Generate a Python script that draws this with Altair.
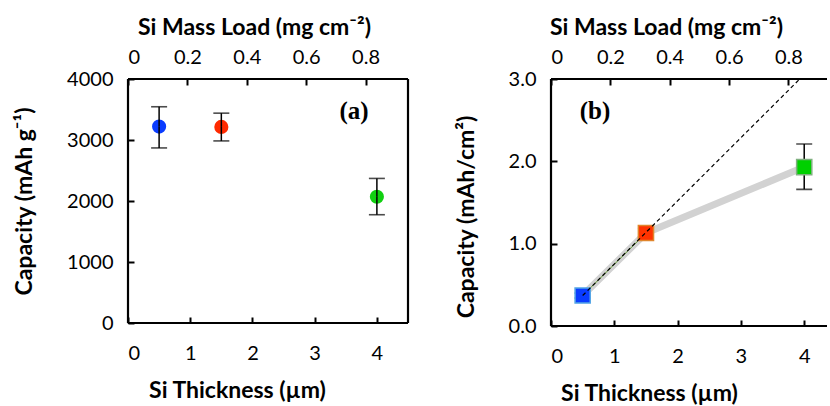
import altair as alt
import pandas as pd

# ---- data ----
thickness = [0.5, 1.5, 4.0]            # Si thickness (µm)
mass_load = [0.105, 0.315, 0.84]       # Si mass load (mg cm-2)
colors_a = ["#0a3cff", "#ff2a00", "#11d011"]
cap_a = [3220, 3215, 2070]             # mAh g-1
cap_a_lo = [2870, 2985, 1775]
cap_a_hi = [3545, 3440, 2370]

colors_b = ["#0a3cff", "#ff3300", "#00d000"]
strokes_b = ["#56a6e6", "#e0852c", "#7fb07f"]
cap_b = [0.37, 1.13, 1.93]             # mAh/cm2
cap_b_lo = [0.34, 1.08, 1.66]
cap_b_hi = [0.40, 1.18, 2.21]

dash_x = [0.5, 3.93]                   # ideal linear scaling line
dash_y = [0.37, 3.0]

x_ticks = [0, 1, 2, 3, 4]
top_ticks = [0, 0.2, 0.4, 0.6, 0.8]
ya_ticks = [0, 1000, 2000, 3000, 4000]
yb_ticks = [0.0, 1.0, 2.0, 3.0]

dfa = pd.DataFrame({"t": thickness, "m": mass_load, "c": cap_a,
                    "lo": cap_a_lo, "hi": cap_a_hi, "col": colors_a})
dfb = pd.DataFrame({"t": thickness, "m": mass_load, "c": cap_b,
                    "lo": cap_b_lo, "hi": cap_b_hi, "col": colors_b,
                    "sc": strokes_b})
dfd = pd.DataFrame({"t": dash_x, "c": dash_y})
one = pd.DataFrame({"k": [0]})

FONT = "Lato"
TITLE_SIZE = 23
LABEL_SIZE = 20
TK = 6
BW = 2.2

WA, HA = 280, 244
WB, HB = 276, 247


def bottom_axis(title_x):
    return alt.Axis(values=x_ticks, format="d", orient="bottom", domain=False,
                    offset=-TK, tickSize=TK, tickWidth=2, tickColor="black",
                    labelPadding=20, labelFontSize=LABEL_SIZE, labelFont=FONT,
                    labelColor="black", grid=False,
                    title="Si Thickness (µm)", titleFont=FONT,
                    titleFontSize=TITLE_SIZE, titleFontWeight="bold",
                    titleColor="black", titlePadding=16,
                    titleX=title_x, titleAnchor="start", titleAlign="center")


def top_axis(title_x):
    return alt.Axis(values=top_ticks, orient="top", domain=False,
                    labelExpr="datum.value == 0 ? '0' : format(datum.value, '.1f')",
                    offset=-TK, tickSize=TK, tickWidth=2, tickColor="black",
                    labelPadding=12, labelFontSize=LABEL_SIZE, labelFont=FONT,
                    labelColor="black", grid=False,
                    title="Si Mass Load (mg cm⁻²)", titleFont=FONT,
                    titleFontSize=TITLE_SIZE, titleFontWeight="bold",
                    titleColor="black", titlePadding=8,
                    titleX=title_x, titleAnchor="start", titleAlign="center")


def left_axis(values, fmt, title, title_y=None):
    kw = dict(values=values, format=fmt, orient="left", domain=False,
              offset=-TK, tickSize=TK, tickWidth=2, tickColor="black",
              labelPadding=15, labelFontSize=LABEL_SIZE, labelFont=FONT,
              labelColor="black", grid=False,
              title=title, titleFont=FONT, titleFontSize=TITLE_SIZE,
              titleFontWeight="bold", titleColor="black", titlePadding=30)
    if title_y is not None:
        kw.update(titleY=title_y, titleAnchor="start", titleAlign="center")
    return alt.Axis(**kw)


def border(w, h, right=True):
    parts = [
        alt.Chart(one).mark_rule(color="black", strokeWidth=BW).encode(
            x=alt.value(0), x2=alt.value(w), y=alt.value(0)),
        alt.Chart(one).mark_rule(color="black", strokeWidth=BW).encode(
            x=alt.value(0), x2=alt.value(w), y=alt.value(h)),
        alt.Chart(one).mark_rule(color="black", strokeWidth=BW).encode(
            x=alt.value(0), y=alt.value(0), y2=alt.value(h)),
    ]
    if right:
        parts.append(alt.Chart(one).mark_rule(color="black", strokeWidth=BW).encode(
            x=alt.value(w), y=alt.value(0), y2=alt.value(h)))
    return parts


# ---- panel (a) ----
ya_scale = alt.Scale(domain=[0, 4000], nice=False)
xa = alt.X("t:Q", scale=alt.Scale(domain=[0, 4.5], nice=False), axis=bottom_axis(109))
ya = alt.Y("c:Q", scale=ya_scale, axis=left_axis(ya_ticks, "d", "Capacity (mAh g⁻¹)"))

base_a = alt.Chart(dfa)
err_a = base_a.mark_rule(color="black", strokeWidth=1.5).encode(x=xa, y=ya, y2="hi:Q")
err_a2 = base_a.mark_rule(color="black", strokeWidth=1.5).encode(x=xa, y=ya, y2="lo:Q")
cap_hi_a = base_a.mark_tick(color="black", orient="horizontal", size=16, thickness=1.6).encode(
    x=xa, y=alt.Y("hi:Q", scale=ya_scale))
cap_lo_a = base_a.mark_tick(color="black", orient="horizontal", size=16, thickness=1.6).encode(
    x=xa, y=alt.Y("lo:Q", scale=ya_scale))
pts_a = base_a.mark_circle(size=200, opacity=1).encode(
    x=xa, y=ya, color=alt.Color("col:N", scale=None))
lab_a = alt.Chart(one).mark_text(text="(a)", font="Liberation Serif", fontSize=25,
                                 fontWeight="bold", color="black").encode(
    x=alt.value(226), y=alt.value(32))

bottom_layer_a = alt.layer(pts_a, err_a, err_a2, cap_hi_a, cap_lo_a, lab_a, *border(WA, HA))
top_layer_a = base_a.mark_point(opacity=0).encode(
    x=alt.X("m:Q", scale=alt.Scale(domain=[0, 0.943], nice=False), axis=top_axis(126)),
    y=ya)

panel_a = alt.layer(bottom_layer_a, top_layer_a).resolve_scale(x="independent").properties(
    width=WA, height=HA)

# ---- panel (b) ----
xb_scale = alt.Scale(domain=[0, 4.36], nice=False)
yb_scale = alt.Scale(domain=[0, 3], nice=False)
xb = alt.X("t:Q", scale=xb_scale, axis=bottom_axis(98))
yb = alt.Y("c:Q", scale=yb_scale,
           axis=left_axis(yb_ticks, ".1f", "Capacity (mAh/cm²)", title_y=HB / 2 + 14))

base_b = alt.Chart(dfb)
gray_b = base_b.mark_line(color="#d2d2d2", strokeWidth=7).encode(x=xb, y=yb, order="t:Q")
green_b = alt.Chart(dfb.iloc[:2]).mark_line(color="#5f9a2e", strokeWidth=1).encode(
    x=xb, y=yb, order="t:Q")
err_b = base_b.mark_rule(color="black", strokeWidth=1.5).encode(
    x=xb, y=alt.Y("lo:Q", scale=yb_scale), y2="hi:Q")
cap_hi_b = base_b.mark_tick(color="black", orient="horizontal", size=16, thickness=1.6).encode(
    x=xb, y=alt.Y("hi:Q", scale=yb_scale))
cap_lo_b = base_b.mark_tick(color="black", orient="horizontal", size=16, thickness=1.6).encode(
    x=xb, y=alt.Y("lo:Q", scale=yb_scale))
sq_b = base_b.mark_square(size=230, opacity=1, fillOpacity=1, strokeWidth=1.5).encode(
    x=xb, y=yb, fill=alt.Color("col:N", scale=None), stroke=alt.Color("sc:N", scale=None))
dash_b = alt.Chart(dfd).mark_line(color="black", strokeWidth=1.2, strokeDash=[4, 3]).encode(
    x=alt.X("t:Q", scale=xb_scale), y=alt.Y("c:Q", scale=yb_scale))
lab_b = alt.Chart(one).mark_text(text="(b)", font="Liberation Serif", fontSize=25,
                                 fontWeight="bold", color="black").encode(
    x=alt.value(44), y=alt.value(32))

bottom_layer_b = alt.layer(gray_b, green_b, err_b, cap_hi_b, cap_lo_b, sq_b, dash_b, lab_b,
                           *border(WB, HB, right=False))
top_layer_b = base_b.mark_point(opacity=0).encode(
    x=alt.X("m:Q", scale=alt.Scale(domain=[0, 0.93], nice=False), axis=top_axis(115)),
    y=yb)

panel_b = alt.layer(bottom_layer_b, top_layer_b).resolve_scale(x="independent").properties(
    width=WB, height=HB)

chart = alt.hconcat(panel_a, panel_b, spacing=45).properties(
    padding={"left": 13, "top": 16, "right": 0, "bottom": 0},
    background="white",
).configure_view(stroke=None)

chart.save("out.html", embed_options={"renderer": "svg", "actions": False})
